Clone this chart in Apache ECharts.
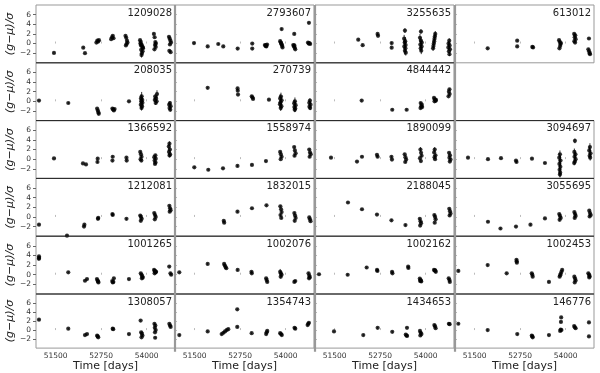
<!DOCTYPE html>
<html>
<head>
<meta charset="utf-8">
<title>Light curves</title>
<script src="https://cdn.jsdelivr.net/npm/echarts@6/dist/echarts.min.js"></script>
<style>
  html, body { margin: 0; padding: 0; background: #fff; }
  #chart { width: 600px; height: 373px; }
</style>
</head>
<body>
<div id="chart"></div>
<script>
// light curves: [time (days), (g-mu)/sigma, optional error]
const lc1209028 = [
  [51454,-1.95],[52259,-0.85],[52306,-2.0],
  [52620,0.2],[52645,0.6],[52670,0.4],[52690,0.7],
  [53025,0.9],[53050,1.3],[53070,1.6],[53090,1.1],
  [53420,1.6],[53440,1.2],[53460,0.6],[53475,0.2],[53450,-0.1],[53430,-0.4],
  [53820,0.7],[53840,0.3],[53860,-0.2],[53880,-0.6],[53900,-1.0],[53850,-1.3],[53890,-1.6],[53870,-2.0,0.5],[53860,-2.4,0.5],[53830,0.0],[53895,-0.8],[53845,-0.4],
  [54200,2.0],[54220,1.3],[54240,0.3],[54255,0.0],[54230,-0.3],[54250,-0.7],[54215,-1.2],
  [54615,1.4],[54635,1.0],[54655,0.6],[54670,0.2],[54640,-0.2],[54625,-1.5],[54660,-1.8]
];
const lc2793607 = [
  [51482,0.1],[51858,-0.6],[52149,-0.1],[52287,-0.6],[52682,-1.05],
  [53083,0.0],[53083,-1.05],
  [53430,-0.3],[53450,-0.5],[53470,-0.6],[53490,-0.2],[53460,-0.4],
  [53891,3.0],[53850,0.5],[53870,0.2],[53890,-0.2],[53905,-0.5],[53915,-0.8],[53880,0.0],
  [54237,2.0],[54210,-0.3],[54230,-0.6],[54250,-0.9],[54265,-1.2],[54240,-0.4],
  [54641,4.3],[54615,0.2],[54635,0.0],[54655,0.1],[54675,-0.1]
];
const lc3255635 = [
  [52149,0.8],[52270,-0.35],[52680,2.0],[52692,1.6],[53067,0.1],[53067,-0.85],
  [53432,2.7,0.5],[53410,1.0,0.8],[53440,0.5,0.8],[53425,0.2,0.6],[53450,-0.3,0.7],[53415,-0.6,0.8],[53445,-1.0,0.6],[53430,-1.5,0.8],[53455,-1.9,0.6],
  [53872,2.5,0.5],[53845,1.2,0.8],[53870,0.6,0.7],[53895,0.2,0.6],[53855,-0.2,0.8],[53890,-0.6,0.7],[53865,-1.0,0.6],[53880,-1.5,0.7],
  [54265,2.0,0.6],[54255,1.5,0.7],[54245,1.0,0.8],[54235,0.5,0.6],[54225,0.0,0.7],[54215,-0.5,0.6],[54205,-1.0,0.5],
  [54649,0.6,0.5],[54630,0.0,0.5],[54660,-0.4,0.6],[54625,-0.8,0.5],[54670,-1.2,0.5],[54640,-1.6,0.4],[54655,-2.2,0.4]
];
const lc613012 = [
  [51858,-1.0],[52669,0.6],[52669,-0.6],[53085,-0.7],[53105,-0.8],
  [53820,0.7],[53840,0.3],[53860,-0.1],[53850,-0.5],[53830,-1.0],[53870,0.1],
  [54235,2.0],[54265,1.7],[54250,1.3],[54275,0.9],[54240,0.5],[54260,0.2],
  [54641,1.05],[54625,-1.2],[54645,-1.6],[54660,-2.0],[54670,-2.2]
];
const lc208035 = [
  [51042,0.15],[51847,-0.35],
  [52640,-1.5],[52660,-1.9],[52675,-2.3],[52685,-2.6],
  [53060,-1.5],[53080,-1.7],[53100,-1.9],[53120,-1.6],
  [53515,0.0],
  [53864,1.05,0.9],[53845,0.6,0.8],[53880,0.3,0.7],[53850,0.0,0.8],[53885,-0.3,0.6],[53840,-0.7,0.8],[53875,-1.0,0.6],[53860,-1.4,0.5],
  [54285,1.5,0.8],[54235,1.0,0.5],[54260,0.6,0.5],[54225,0.3,0.4],[54275,0.0,0.4],[54250,-0.35,0.4],
  [54641,-0.35,0.4],[54620,-0.7,0.4],[54660,-1.0,0.5],[54630,-1.4,0.4],[54650,-1.75,0.4]
];
const lc270739 = [
  [51858,2.8],[52680,2.67],[52685,2.2],[52692,1.4],
  [53070,1.05],[53089,0.8],[53105,0.5],[53542,0.35],
  [53872,1.0,0.8],[53850,0.6,0.9],[53890,0.2,0.8],[53860,-0.2,0.7],[53845,-0.6,0.8],[53885,-1.0,0.7],[53865,-1.4,0.6],
  [54256,0.0,0.8],[54235,-0.4,0.7],[54275,-0.8,0.8],[54240,-1.2,0.6],[54265,-1.5,0.7],[54250,-1.75,0.5],
  [54668,0.15,0.5],[54650,-0.3,0.5],[54685,-0.7,0.6],[54655,-1.1,0.5],[54675,-1.4,0.4]
];
const lc4844442 = [
  [52243,0.15],[53083,-1.75],[53479,-1.75],
  [53865,-0.35],[53895,-0.7],[53880,-1.0],[53860,-1.4],[53905,-1.2],
  [54230,0.7],[54255,0.4],[54275,0.1],[54245,0.0],[54285,0.3],
  [54655,2.5],[54640,2.0],[54660,1.5],[54630,1.05]
];
const lc1366592 = [
  [51454,0.15],[52251,-0.9],[52334,-1.1],[52649,-0.6],[52655,0.1],
  [53061,-0.3],[53068,0.5],[53446,0.3],[53452,-0.3],
  [53825,1.5],[53845,1.0],[53860,0.5],[53835,0.0],[53855,-0.3],
  [54240,0.8],[54210,0.4],[54250,0.1],[54220,-0.3],[54245,-0.7],[54230,-1.0],
  [54627,3.2,0.5],[54610,2.6,0.6],[54640,2.0,0.6],[54615,1.5,0.5],[54645,1.0,0.5],[54630,0.75,0.4]
];
const lc1558974 = [
  [51490,-1.7],[51875,-2.2],[52279,-1.9],[52677,-1.4],[53075,-1.2],[53460,-0.4],
  [53850,1.5],[53870,1.0],[53890,0.5],[53865,0.0],
  [54235,2.5],[54255,1.8],[54275,1.2],[54245,0.7],
  [54650,2.0],[54670,1.4],[54690,1.0],[54660,0.5]
];
const lc1890099 = [
  [51400,0.3],[52114,-0.5],[52251,0.5],[52663,0.9],[52680,0.5],[53061,0.5],[53075,-0.1],
  [53425,1.0],[53445,0.4],[53465,-0.1],[53440,-0.6],
  [53858,2.0,0.5],[53875,1.3],[53890,0.7],[53845,0.2],[53870,-0.4],
  [54250,2.0,0.5],[54235,1.4],[54270,0.8],[54245,0.4],[54260,0.0],
  [54645,1.3],[54670,0.8],[54655,0.3],[54685,-0.1],[54665,-0.5]
];
const lc3094697 = [
  [51317,0.3],[51866,0.0],[52224,0.2],[52636,-0.3],[52650,-0.6],[53075,0.1],[53432,-0.8],
  [53844,1.0,0.8],[53825,0.3,0.9],[53860,-0.3,1.0],[53830,-1.0,1.0],[53855,-1.6,0.9],[53835,-2.2,1.0],[53850,-2.8,0.8],[53844,-3.2,0.6],
  [54256,3.8,0.5],[54240,1.5,0.7],[54270,1.0,0.6],[54245,0.5,0.6],[54275,0.0,0.5],[54255,-0.5,0.6],[54235,-0.8,0.5],
  [54668,2.5,0.8],[54650,1.8,0.8],[54685,1.2,0.7],[54660,0.7,0.6],[54675,0.3,0.6]
];
const lc1212081 = [
  [51042,-1.6],[51812,-3.9],[52279,-2.0],[52290,-1.6],[52663,-0.4],[52670,-0.2],
  [53061,0.6],[53068,0.4],[53446,-0.4],
  [53825,0.3],[53845,0.0],[53865,-0.4],[53840,-0.8],
  [54210,0.8],[54230,0.4],[54250,0.0],[54225,-0.5],
  [54625,2.3],[54645,1.8],[54660,1.4],[54635,1.1]
];
const lc1832015 = [
  [52300,-0.8],[52312,-1.2],[52677,1.1],[53075,1.8],[53474,2.4],
  [53855,2.2],[53875,1.6],[53890,1.0],[53860,0.4],[53880,-0.2],
  [54240,0.8],[54260,0.3],[54275,-0.2],[54250,-0.8],
  [54650,-0.1],[54670,-0.5],[54685,-0.9]
];
const lc2188045 = [
  [51866,3.0],[52251,1.6],[52663,0.5],[53061,-0.7],[53446,-1.7],
  [53840,-0.4],[53860,-0.9],[53875,-1.3],[53850,-1.8],
  [54240,0.4],[54260,0.0],[54275,-0.5],[54250,-1.2],
  [54650,1.7],[54670,1.2],[54685,0.7],[54660,0.3]
];
const lc3055695 = [
  [51866,-1.0],[52210,-2.4],[52636,-2.0],[53034,-1.6],[53432,-0.3],
  [53825,0.6],[53845,0.2],[53865,-0.2],[53835,-0.6],
  [54240,1.0],[54260,0.6],[54275,0.2],[54250,-0.2],
  [54650,1.3],[54670,0.8],[54690,0.4],[54660,0.1]
];
const lc1001265 = [
  [51042,3.8],[51045,3.5],[51040,3.3],[51847,0.5],[52306,-1.25],[52361,-0.9],
  [52635,-0.9],[52655,-1.2],[52675,-1.6],[52665,-1.4],
  [53055,-1.3],[53070,-1.6],[53100,-0.75],[53085,-1.5],
  [53515,-0.9],
  [53840,0.3],[53860,0.0],[53880,-0.3],[53895,-0.6],[53870,-0.75],
  [54205,1.0],[54225,0.8],[54245,0.5],[54220,0.3],[54260,0.6],[54240,0.7],
  [54622,1.7],[54655,0.3],[54675,0.0]
];
const lc1002076 = [
  [51078,0.5],[51858,2.25],[52310,2.25],[52330,1.9],[52350,1.6],[52370,1.35],
  [52682,1.0],[53062,0.6],[53070,0.3],
  [53465,-0.75],[53479,-1.1],[53495,-1.5],
  [53850,0.6,0.6],[53870,0.3,0.5],[53890,0.0,0.5],[53865,-0.4,0.4],
  [54240,-1.5],[54265,-1.3],
  [54630,0.3],[54650,-0.2],[54665,-0.5],[54645,-0.75]
];
const lc1002162 = [
  [51070,0.1],[51858,0.0],[52380,1.5],[52665,1.0],[52675,0.8],[53078,0.6],[53088,0.3],
  [53520,1.7],[53526,1.4],
  [53840,-0.8],[53860,-1.1],[53880,-1.4],[53870,-1.2],[53850,-1.3],
  [54230,1.0],[54255,0.85],[54280,0.6],[54265,0.9],
  [54635,-0.75],[54655,-1.1],[54665,-1.5]
];
const lc1002453 = [
  [51051,0.8],[51858,2.0],[52380,0.3],[52650,3.1],[52655,2.8],[52660,2.5],
  [53070,0.3],[53085,0.0],[53095,-0.4],[53542,-1.5],
  [53905,1.0],[53885,0.6],[53866,0.2],[53850,-0.1],[53835,-0.4],
  [54240,-0.4],[54260,-0.8],[54275,-1.2],[54250,-1.6],
  [54625,0.3],[54645,0.0],[54660,-0.3],[54650,-0.55]
];
const lc1308057 = [
  [51042,2.3],[51847,0.3],[52306,-1.1],[52361,-0.9],
  [52640,-1.2],[52655,-1.4],[52670,-1.6],
  [53068,0.3],[53082,0.2],[53515,-0.9],
  [53836,2.1],[53850,-0.5],[53870,-0.8],[53885,-1.2],[53860,-1.6],
  [54215,1.4],[54240,1.0],[54225,0.5],[54250,0.0],[54230,-0.5],[54235,-1.7],
  [54625,1.4],[54645,1.0],[54660,0.7]
];
const lc1354743 = [
  [51078,-1.1],[51858,-0.3],
  [52243,-0.9],[52290,-0.6],[52334,-0.3],[52380,0.0],[52424,0.2],
  [52671,4.6],[52671,0.7],[53067,-0.7],
  [53465,-0.9],[53480,-0.5],[53495,-0.2],
  [53850,-0.7],[53875,-0.9],[53895,-1.1],
  [54245,0.5],[54265,0.3],
  [54605,1.1],[54622,1.4],[54640,1.6]
];
const lc1434653 = [
  [51482,-0.3],[52287,-1.1],[52682,0.5],[53083,-0.4],
  [53455,-1.0],[53474,-1.2],[53490,-1.3],[53488,0.5],
  [53845,-0.2],[53865,-0.6],[53885,-0.9],[53855,-1.2],
  [54240,1.1],[54260,0.8],[54275,0.4],
  [54640,1.4],[54660,1.3]
];
const lc146776 = [
  [51051,1.4],[51858,0.0],[52671,-0.9],[53070,-1.2],[53085,-1.4],[53095,-1.6],[53542,-1.1],
  [53878,2.8],[53872,1.8],[53850,-0.2],[53885,0.0],[53865,0.1],
  [54235,0.9],[54255,0.6],[54275,0.4],
  [54641,1.7],[54641,-1.4]
];

// panel order, row by row (null = empty cell)
const starIds = [
  '1209028', '2793607', '3255635', '613012',
  '208035',  '270739',  '4844442', null,
  '1366592', '1558974', '1890099', '3094697',
  '1212081', '1832015', '2188045', '3055695',
  '1001265', '1002076', '1002162', '1002453',
  '1308057', '1354743', '1434653', '146776'
];
const curves = [
  lc1209028, lc2793607, lc3255635, lc613012,
  lc208035,  lc270739,  lc4844442, null,
  lc1366592, lc1558974, lc1890099, lc3094697,
  lc1212081, lc1832015, lc2188045, lc3055695,
  lc1001265, lc1002076, lc1002162, lc1002453,
  lc1308057, lc1354743, lc1434653, lc146776
];
const xTicks = [51500, 52750, 54000];
const yTicks = [-2, 0, 2, 4, 6];

// layout
const NCOL = 4, NROW = 6;
const colLeft = [36, 175, 315, 455];
const PW = 139, PH = 57.8, TOP0 = 5;
const rowTop = r => TOP0 + r * PH;
const FONT = 'DejaVu Sans';

const chart = echarts.init(document.getElementById('chart'));

const grid = [], xAxis = [], yAxis = [], series = [], title = [], graphic = [];
let k = 0;
starIds.forEach((id, i) => {
  if (!id) return;
  const r = Math.floor(i / NCOL), c = i % NCOL;
  const lastRow = (i + NCOL >= starIds.length);
  grid.push({
    left: colLeft[c], top: rowTop(r), width: PW, height: PH,
    show: true, borderColor: '#999', borderWidth: 1, containLabel: false
  });
  xAxis.push({
    type: 'value', gridIndex: k, min: 50960, max: 54780,
    splitLine: { show: false },
    axisLine: { show: false },
    axisTick: { show: true, inside: true, length: 2, customValues: xTicks, lineStyle: { color: '#bbb' } },
    axisLabel: { show: lastRow, customValues: xTicks, fontSize: 7.5, color: '#333', fontFamily: FONT, margin: 4,
                 formatter: v => String(v) },
    name: lastRow ? 'Time [days]' : '',
    nameLocation: 'middle', nameGap: 10,
    nameTextStyle: { fontSize: 11, color: '#222', fontFamily: FONT }
  });
  yAxis.push({
    type: 'value', gridIndex: k, min: -4, max: 8,
    splitLine: { show: false },
    axisLine: { show: false },
    axisTick: { show: true, inside: c !== 0, length: c === 0 ? 3 : 2, customValues: yTicks,
                lineStyle: { color: c === 0 ? '#666' : '#bbb' } },
    axisLabel: { show: c === 0, customValues: yTicks, fontSize: 7.5, color: '#333', fontFamily: FONT, margin: 5,
                 formatter: v => String(v).replace('-', '\u2212') },
    name: c === 0 ? '(g\u2212\u03bc)/\u03c3' : '',
    nameLocation: 'middle', nameGap: 19,
    nameTextStyle: { fontSize: 11, fontStyle: 'italic', color: '#222', fontFamily: FONT }
  });
  title.push({
    text: id, right: 600 - (colLeft[c] + PW) + 3, top: rowTop(r) + 3, padding: 0,
    textStyle: { fontSize: 10, fontWeight: 'normal', color: '#222', fontFamily: FONT }
  });
  const pts = curves[i];
  series.push({
    type: 'custom', xAxisIndex: k, yAxisIndex: k, silent: true, clip: true,
    data: pts.map(p => [p[0], p[1], p.length > 2 ? p[2] : 0.2]),
    encode: { x: 0, y: 1 },
    renderItem: (params, api) => {
      const x = api.value(0), v = api.value(1), e = api.value(2);
      const a = api.coord([x, v + e]), b = api.coord([x, v - e]);
      return { type: 'line', shape: { x1: a[0], y1: a[1], x2: b[0], y2: b[1] },
               style: { stroke: '#000', lineWidth: 0.8 } };
    }
  });
  series.push({
    type: 'scatter', xAxisIndex: k, yAxisIndex: k, silent: true,
    symbol: 'circle', symbolSize: 4.2,
    itemStyle: { color: '#000' },
    data: pts.map(p => [p[0], p[1]])
  });
  // dark top spine for panels below the first row
  if (r > 0) {
    graphic.push({ type: 'line', z: 100, silent: true,
      shape: { x1: colLeft[c], y1: rowTop(r), x2: colLeft[c] + PW, y2: rowTop(r) },
      style: { stroke: '#222', lineWidth: 1 } });
  }
  k++;
});
// thicker grey separators between columns
for (let c = 1; c < NCOL; c++) {
  graphic.push({ type: 'line', z: 101, silent: true,
    shape: { x1: colLeft[c], y1: TOP0, x2: colLeft[c], y2: rowTop(NROW) },
    style: { stroke: '#999', lineWidth: 2.2 } });
}

chart.setOption({
  animation: false,
  backgroundColor: '#fff',
  title: title,
  grid: grid,
  xAxis: xAxis,
  yAxis: yAxis,
  series: series,
  graphic: graphic
});
</script>
</body>
</html>
